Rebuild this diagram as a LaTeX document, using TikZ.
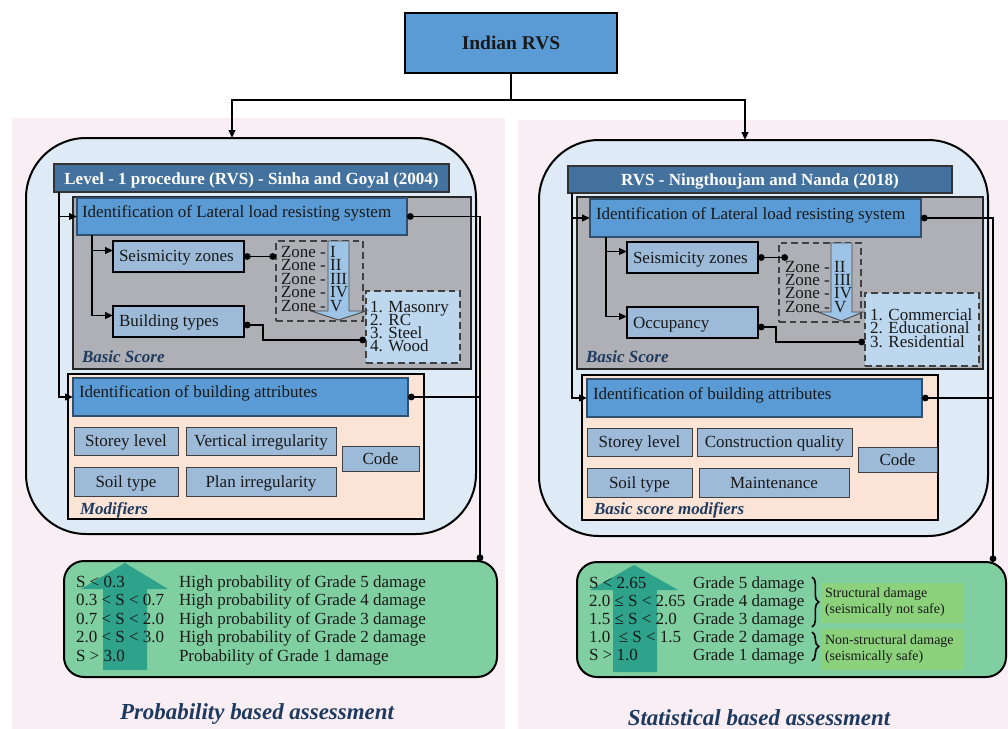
\documentclass[tikz,border=0pt]{standalone}
\usepackage{fontspec}
\setmainfont{Liberation Serif}
\usetikzlibrary{arrows.meta,fit,decorations.pathreplacing}

\definecolor{pinkbg}{HTML}{F8EEF4}
\definecolor{roundbg}{HTML}{DEEAF6}
\definecolor{darkbar}{HTML}{44729E}
\definecolor{midblue}{HTML}{5B9BD5}
\definecolor{paleblue}{HTML}{9DBBD9}
\definecolor{listblue}{HTML}{BDD7EE}
\definecolor{zoneblue}{HTML}{9DC3E6}
\definecolor{scoregray}{HTML}{AEB0B5}
\definecolor{peach}{HTML}{FBE4D6}
\definecolor{mint}{HTML}{7FCFA1}
\definecolor{arrowteal}{HTML}{2EA28B}
\definecolor{leafgreen}{HTML}{8CD17C}
\definecolor{labelnavy}{HTML}{1F3A5F}

\newcommand\mainsz{\fontsize{12.75pt}{14pt}\selectfont}
\newcommand\smallsz{\fontsize{10.5pt}{12pt}\selectfont}
\newcommand\bigsz{\fontsize{14.6pt}{16pt}\selectfont}
\newcommand\titlesz{\fontsize{17.2pt}{19pt}\selectfont}

\begin{document}
\begin{tikzpicture}[x={(0.75pt,0)}, y={(0,-0.75pt)},
  every node/.style={inner sep=0pt, outer sep=0pt},
  txt/.style={font=\mainsz, text=black!90},
  boxtxt/.style={txt, anchor=base, yshift=-4.2pt},
  smalltxt/.style={font=\smallsz, text=black!90},
  rvsbox/.style={fill=midblue, draw=black, line width=1.6pt},
  roundbox/.style={fill=roundbg, draw=black, line width=1.5pt, rounded corners=45pt},
  scorebox/.style={fill=scoregray, draw=black!85, line width=1.6pt},
  titlebar/.style={fill=darkbar, draw=black!80, line width=1.2pt},
  titletxt/.style={anchor=base, yshift=-4.5pt, text=white, font=\mainsz\bfseries},
  attrbox/.style={fill=peach, draw=black, line width=1.5pt},
  midbox/.style={fill=midblue, draw=darkbar!70!black, line width=0.8pt},
  palebox/.style={fill=paleblue, draw=black, line width=1.5pt},
  smallbox/.style={fill=paleblue, draw=black!75, line width=0.7pt},
  dashbox/.style={draw=black!75, line width=1pt, dash pattern=on 5pt off 3pt},
  listbox/.style={dashbox, fill=listblue},
  zonearrow/.style={fill=zoneblue, draw=black!70, line width=0.7pt},
  greenbox/.style={fill=mint, draw=black, line width=1.5pt, rounded corners=15pt},
  leafbox/.style={fill=leafgreen},
  sectionlbl/.style={font=\mainsz\bfseries\itshape, text=labelnavy},
  bottomtitle/.style={font=\titlesz\bfseries\itshape, text=labelnavy},
  arr/.style={-{Triangle[length=6pt,width=5pt]}, line width=1.4pt},
  dotdot/.style={{Circle[length=5pt]}-{Circle[length=5pt]}, line width=1.4pt},
  dotstart/.style={{Circle[length=5pt]}-, line width=1.4pt},
  bracestyle/.style={line width=1.2pt, decorate, decoration={brace, amplitude=5pt}}
]
\useasboundingbox (0,0) rectangle (1008,729);

% panel backgrounds
\fill[pinkbg] (12,118) rectangle (505,729);
\fill[pinkbg] (518,120) rectangle (1008,729);

% root
\node[rvsbox, fit={(405,13) (617,73)}] (rvs) {};
\node[anchor=base, yshift=-5pt, font=\bigsz\bfseries, text=black!90] (rvst) at (rvs.center) {Indian RVS};
\coordinate (inL) at (232,138);
\coordinate (inR) at (745,140);

% rounded procedure frames
\node[roundbox, fit={(26,138) (476,534)}] (roundL) {};
\node[roundbox, fit={(539,140) (988,536)}] (roundR) {};

\draw[arr] (rvs.south) -- (rvs.south |- 0,100) -| (inL);
\draw[arr] (rvs.south) -- (rvs.south |- 0,100) -| (inR);

% basic score blocks
\node[scorebox, fit={(73,197) (471,369)}] (scoreL) {};
\node[scorebox, fit={(577,197) (983,369)}] (scoreR) {};

% modifier blocks
\node[attrbox, fit={(68,374) (424,519)}] (modL) {};
\node[attrbox, fit={(582,375) (938,520)}] (modR) {};

% title bars
\node[titlebar, fit={(54,164) (449,192)}] (titleL) {};
\node[titlebar, fit={(568,166) (952,193)}] (titleR) {};
\node[titletxt] (titleLt) at (titleL.center) {Level - 1 procedure (RVS) - Sinha and Goyal (2004)};
\node[titletxt] (titleRt) at (titleR.center) {RVS - Ningthoujam and Nanda (2018)};

% identification boxes
\node[midbox, fit={(77,198) (407,235)}] (llrsL) {};
\node[midbox, fit={(590,199) (921,237)}] (llrsR) {};
\node[midbox, fit={(73,378) (408,416)}] (attrL) {};
\node[midbox, fit={(587,379) (922,417)}] (attrR) {};
\node[txt, anchor=base west] (llrsLt) at (82,217) {Identification of Lateral load resisting system};
\node[txt, anchor=base west] (llrsRt) at (596,219) {Identification of Lateral load resisting system};
\node[txt, anchor=base west] (attrLt) at (79,397) {Identification of building attributes};
\node[txt, anchor=base west] (attrRt) at (593,399) {Identification of building attributes};

% basic score sub-boxes
\node[palebox, fit={(113,241) (244,272)}] (seisL) {};
\node[palebox, fit={(113,306) (244,337)}] (btypeL) {};
\node[palebox, fit={(627,242) (758,273)}] (seisR) {};
\node[palebox, fit={(627,307) (758,338)}] (occR) {};
\node[txt, anchor=base west] (seisLt) at (119,261) {Seismicity zones};
\node[txt, anchor=base west] (btypeLt) at (119,326) {Building types};
\node[txt, anchor=base west] (seisRt) at (633,263) {Seismicity zones};
\node[txt, anchor=base west] (occRt) at (633,328) {Occupancy};

% zone and category lists
\node[dashbox, fit={(276,241) (363,321)}] (zoneL) {};
\node[dashbox, fit={(779,243) (861,322)}] (zoneR) {};
\node[listbox, fit={(366,291) (460,363)}] (listL) {};
\node[listbox, fit={(865,293) (979,366)}] (listR) {};
\coordinate (zRin) at (788,257.5);

\draw[zonearrow] (328,241) -- (349,241) -- (349,311) -- (366,311) -- (338.5,320) -- (311,311) -- (328,311) -- cycle;
\draw[zonearrow] (831,243) -- (852,243) -- (852,312) -- (863,312) -- (841.5,321) -- (818,312) -- (831,312) -- cycle;

\foreach \r [count=\i from 0] in {I,II,III,IV,V}
  \node[txt, anchor=base west] (zL\i) at (281,{257+13.5*\i}) {Zone - \r};
\foreach \r [count=\i from 0] in {II,III,IV,V}
  \node[txt, anchor=base west] (zR\i) at (785,{272+13.4*\i}) {Zone - \r};
\foreach \t [count=\i from 0] in {1. Masonry,2. RC,3. Steel,4. Wood}
  \node[txt, anchor=base west] (bL\i) at (370,{312+13*\i}) {\t};
\foreach \t [count=\i from 0] in {1. Commercial,2. Educational,3. Residential}
  \node[txt, anchor=base west] (oR\i) at (870,{320+13.5*\i}) {\t};

\node[sectionlbl, anchor=base west] (bsL) at (82,362) {Basic Score};
\node[sectionlbl, anchor=base west] (bsR) at (586,362) {Basic Score};

% modifier items
\node[smallbox, fit={(74,427) (178,455)}] (storeyL) {};
\node[smallbox, fit={(186,427) (336,455)}] (vertL) {};
\node[smallbox, fit={(74,467) (178,496)}] (soilL) {};
\node[smallbox, fit={(186,467) (336,496)}] (planL) {};
\node[smallbox, fit={(342,446) (419,471)}] (codeL) {};
\node[smallbox, fit={(587,428) (692,456)}] (storeyR) {};
\node[smallbox, fit={(697,428) (852,456)}] (qualR) {};
\node[smallbox, fit={(587,468) (692,497)}] (soilR) {};
\node[smallbox, fit={(699,468) (849,497)}] (maintR) {};
\node[smallbox, fit={(858,447) (937,472)}] (codeR) {};
\node[boxtxt] (storeyLt) at (storeyL.center) {Storey level};
\node[boxtxt] (vertLt) at (vertL.center) {Vertical irregularity};
\node[boxtxt] (soilLt) at (soilL.center) {Soil type};
\node[boxtxt] (planLt) at (planL.center) {Plan irregularity};
\node[boxtxt] (codeLt) at (codeL.center) {Code};
\node[boxtxt] (storeyRt) at (storeyR.center) {Storey level};
\node[boxtxt] (qualRt) at (qualR.center) {Construction quality};
\node[boxtxt] (soilRt) at (soilR.center) {Soil type};
\node[boxtxt] (maintRt) at (maintR.center) {Maintenance};
\node[boxtxt] (codeRt) at (codeR.center) {Code};
\node[sectionlbl, anchor=base west] (modLt) at (80,514) {Modifiers};
\node[sectionlbl, anchor=base west] (modRt) at (594,514) {Basic score modifiers};

% assessment boxes
\node[greenbox, fit={(64,561) (497,677)}] (greenL) {};
\node[greenbox, fit={(577,562) (1006,677)}] (greenR) {};
\fill[arrowteal] (103,670) -- (103,589) -- (81,589) -- (125,563) -- (168,589) -- (147,589) -- (147,670) -- cycle;
\fill[arrowteal] (613,672) -- (613,590) -- (590,590) -- (634,565) -- (678,590) -- (657,590) -- (657,672) -- cycle;

\foreach \s/\d [count=\i from 0] in {
    S < 0.3/High probability of Grade 5 damage,
    0.3 < S < 0.7/High probability of Grade 4 damage,
    0.7 < S < 2.0/High probability of Grade 3 damage,
    2.0 < S < 3.0/High probability of Grade 2 damage,
    S > 3.0/Probability of Grade 1 damage} {
  \node[txt, anchor=base west] (pS\i) at (76,{587+18.5*\i}) {\s};
  \node[txt, anchor=base west] (pD\i) at (179,{587+18.5*\i}) {\d};
}
\foreach \s/\d [count=\i from 0] in {
    S < 2.65/Grade 5 damage,
    2.0 ≤ S < 2.65/Grade 4 damage,
    1.5 ≤ S < 2.0/Grade 3 damage,
    1.0 \ ≤ S < 1.5/Grade 2 damage,
    S > 1.0/Grade 1 damage} {
  \node[txt, anchor=base west] (sS\i) at (589,{588+18*\i}) {\s};
  \node[txt, anchor=base west] (sD\i) at (693,{588+18*\i}) {\d};
}

\draw[bracestyle] (812,577) -- (812,627);
\draw[bracestyle] (812,632) -- (812,661);
\node[leafbox, fit={(821,583) (963,623)}] (structBox) {};
\node[leafbox, fit={(822,629) (963,670)}] (nonstructBox) {};
\node[smalltxt, anchor=base west] (st1) at (825,597) {Structural damage};
\node[smalltxt, anchor=base west] (st2) at (825,613) {(seismically not safe)};
\node[smalltxt, anchor=base west] (ns1) at (825,644) {Non-structural damage};
\node[smalltxt, anchor=base west] (ns2) at (825,660) {(seismically safe)};

\node[bottomtitle, anchor=base] (probT) at (257,719) {Probability based assessment};
\node[bottomtitle, anchor=base] (statT) at (759,725) {Statistical based assessment};

% connectors, left procedure
\draw[arr] (titleL.south -| 59,0) |- (llrsL.west);
\draw[arr] (titleL.south -| 59,0) |- (attrL.west);
\draw[arr] (llrsL.south -| 92,0) |- ([yshift=4.5pt]seisL.west);
\draw[arr] (llrsL.south -| 92,0) |- ([yshift=4.5pt]btypeL.west);
\draw[dotdot] (seisL.east) -- (seisL.east -| zoneL.west);
\draw[dotdot] ([yshift=-2.6pt]btypeL.east) -- ++(19,0) |- (listL.west |- 0,340);
\draw[dotdot] (llrsL.east) -| (greenL.north -| 480,0);
\draw[dotstart] (attrL.east) -- (attrL.east -| 480,0);

% connectors, right procedure
\draw[arr] (titleR.south -| 572,0) |- (llrsR.west);
\draw[arr] (titleR.south -| 572,0) |- (attrR.west);
\draw[arr] (llrsR.south -| 606,0) |- ([yshift=4.5pt]seisR.west);
\draw[arr] (llrsR.south -| 606,0) |- ([yshift=4.5pt]occR.west);
\draw[dotdot] (seisR.east) -- (zRin);
\draw[dotdot] ([yshift=-3.4pt]occR.east) -- ++(18,0) |- (listR.west |- 0,342);
\draw[dotdot] (llrsR.east) -| (greenR.north -| 993,0);
\draw[dotstart] (attrR.east) -- (attrR.east -| 993,0);
\end{tikzpicture}
\end{document}
